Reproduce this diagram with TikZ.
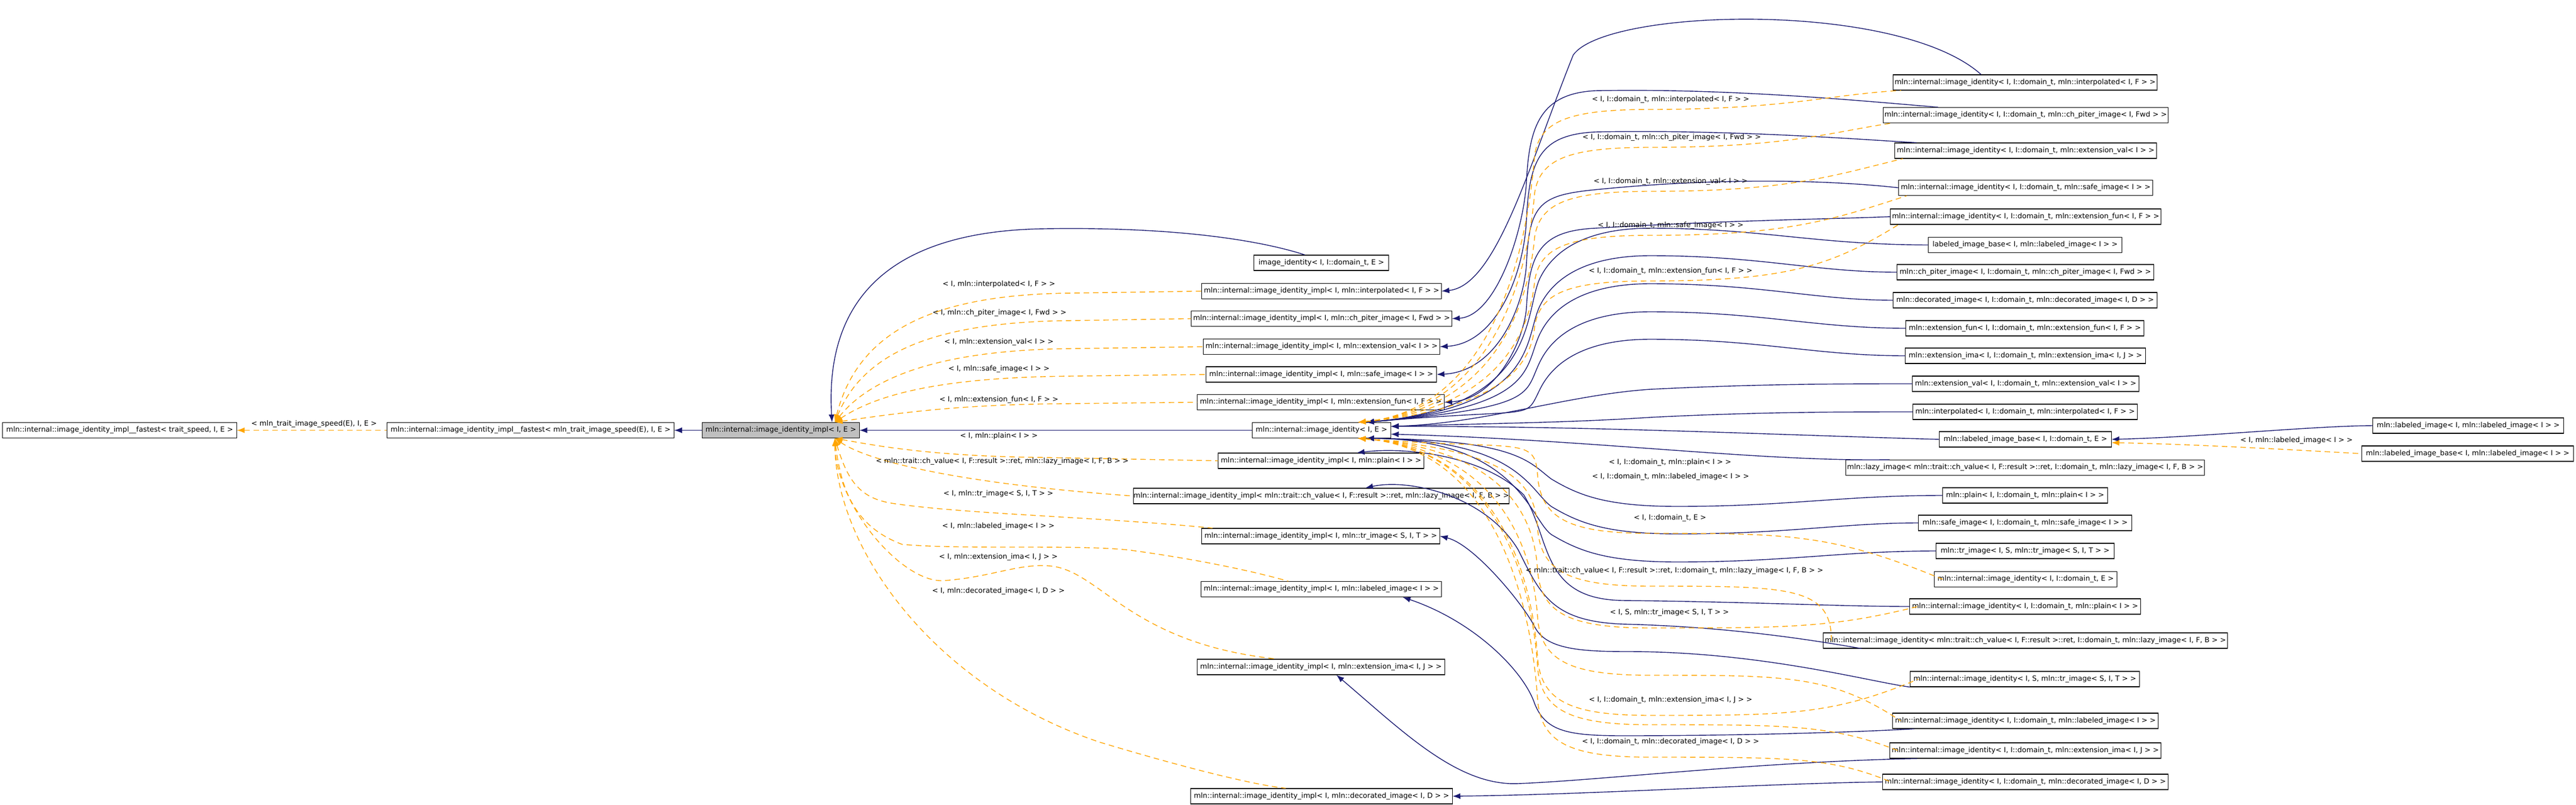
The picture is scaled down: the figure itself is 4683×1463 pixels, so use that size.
\documentclass[tikz,border=0pt]{standalone}
\usepackage{fontspec}
\setmainfont{DejaVu Sans}
\usetikzlibrary{arrows.meta}
\definecolor{navy}{HTML}{191970}
\definecolor{orng}{HTML}{FFA500}
\begin{document}
\begin{tikzpicture}[x=0.01cm,y=-0.01cm,
 box/.style={draw=black, line width=0.3pt, fill=white, minimum height=0.28cm, inner sep=0pt, font=\fontsize{3.7}{4}\selectfont},
 lbl/.style={inner sep=0pt, font=\fontsize{3.7}{4}\selectfont},
 bedge/.style={draw=navy, line width=0.4pt, {Latex[length=4pt,width=3pt]}-},
 oedge/.style={draw=orng, line width=0.4pt, dash pattern=on 1mm off 0.7mm, {Latex[length=4pt,width=3pt]}-}]
\useasboundingbox (0,0) rectangle (4683,1463);
% left
\node[box,minimum width=4.25cm] (base) at (217.5,782.5) {mln::internal::image\_identity\_impl\_\_fastest< trait\_speed, I, E >};
\node[box,minimum width=5.21cm] (fastest) at (964.5,782.5) {mln::internal::image\_identity\_impl\_\_fastest< mln\_trait\_image\_speed(E), I, E >};
\node[box,minimum width=2.85cm,fill={rgb,255:red,191;green,191;blue,191}] (main) at (1419.5,782.5) {mln::internal::image\_identity\_impl< I, E >};
% middle column
\node[box,minimum width=2.44cm] (top) at (2402,478) {image\_identity< I, I::domain\_t, E >};
\node[box,minimum width=4.35cm] (implInterp) at (2402.5,529.5) {mln::internal::image\_identity\_impl< I, mln::interpolated< I, F > >};
\node[box,minimum width=4.73cm] (implChp) at (2402.5,579.5) {mln::internal::image\_identity\_impl< I, mln::ch\_piter\_image< I, Fwd > >};
\node[box,minimum width=4.29cm] (implEval) at (2402.5,630.5) {mln::internal::image\_identity\_impl< I, mln::extension\_val< I > >};
\node[box,minimum width=4.18cm] (implSafe) at (2402,681) {mln::internal::image\_identity\_impl< I, mln::safe\_image< I > >};
\node[box,minimum width=4.48cm] (implEfun) at (2401,731.5) {mln::internal::image\_identity\_impl< I, mln::extension\_fun< I, F > >};
\node[box,minimum width=2.51cm] (imgid) at (2402.5,782.5) {mln::internal::image\_identity< I, E >};
\node[box,minimum width=3.73cm] (implPlain) at (2401.5,838) {mln::internal::image\_identity\_impl< I, mln::plain< I > >};
\node[box,minimum width=6.82cm] (implLazy) at (2402,902) {mln::internal::image\_identity\_impl< mln::trait::ch\_value< I, F::result >::ret, mln::lazy\_image< I, F, B > >};
\node[box,minimum width=4.32cm] (implTr) at (2401,975) {mln::internal::image\_identity\_impl< I, mln::tr\_image< S, I, T > >};
\node[box,minimum width=4.36cm] (implLab) at (2402,1071.5) {mln::internal::image\_identity\_impl< I, mln::labeled\_image< I > >};
\node[box,minimum width=4.49cm] (implEima) at (2401.5,1213) {mln::internal::image\_identity\_impl< I, mln::extension\_ima< I, J > >};
\node[box,minimum width=4.75cm] (implDec) at (2402.5,1448) {mln::internal::image\_identity\_impl< I, mln::decorated\_image< I, D > >};
% right column
\node[box,minimum width=4.79cm] (idInterp) at (3681.5,150) {mln::internal::image\_identity< I, I::domain\_t, mln::interpolated< I, F > >};
\node[box,minimum width=5.17cm] (idChp) at (3682.5,209.5) {mln::internal::image\_identity< I, I::domain\_t, mln::ch\_piter\_image< I, Fwd > >};
\node[box,minimum width=4.75cm] (idEval) at (3682.5,274) {mln::internal::image\_identity< I, I::domain\_t, mln::extension\_val< I > >};
\node[box,minimum width=4.61cm] (idSafe) at (3682.5,341.5) {mln::internal::image\_identity< I, I::domain\_t, mln::safe\_image< I > >};
\node[box,minimum width=4.91cm] (idEfun) at (3682.5,394) {mln::internal::image\_identity< I, I::domain\_t, mln::extension\_fun< I, F > >};
\node[box,minimum width=3.51cm] (lbbLab) at (3681.5,445.5) {labeled\_image\_base< I, mln::labeled\_image< I > >};
\node[box,minimum width=4.66cm] (chp) at (3682,495) {mln::ch\_piter\_image< I, I::domain\_t, mln::ch\_piter\_image< I, Fwd > >};
\node[box,minimum width=4.79cm] (dec) at (3681.5,546) {mln::decorated\_image< I, I::domain\_t, mln::decorated\_image< I, D > >};
\node[box,minimum width=4.32cm] (efun) at (3681,597) {mln::extension\_fun< I, I::domain\_t, mln::extension\_fun< I, F > >};
\node[box,minimum width=4.36cm] (eima) at (3682,647) {mln::extension\_ima< I, I::domain\_t, mln::extension\_ima< I, J > >};
\node[box,minimum width=4.11cm] (eval) at (3682.5,698) {mln::extension\_val< I, I::domain\_t, mln::extension\_val< I > >};
\node[box,minimum width=4.07cm] (interp) at (3681.5,749) {mln::interpolated< I, I::domain\_t, mln::interpolated< I, F > >};
\node[box,minimum width=3.12cm] (lbbE) at (3682,799) {mln::labeled\_image\_base< I, I::domain\_t, E >};
\node[box,minimum width=6.51cm] (lazy) at (3681.5,850.5) {mln::lazy\_image< mln::trait::ch\_value< I, F::result >::ret, I::domain\_t, mln::lazy\_image< I, F, B > >};
\node[box,minimum width=2.99cm] (plain) at (3681.5,901) {mln::plain< I, I::domain\_t, mln::plain< I > >};
\node[box,minimum width=3.87cm] (safe) at (3681.5,951) {mln::safe\_image< I, I::domain\_t, mln::safe\_image< I > >};
\node[box,minimum width=3.23cm] (tr) at (3681.5,1002) {mln::tr\_image< I, S, mln::tr\_image< S, I, T > >};
\node[box,minimum width=3.31cm] (idE) at (3682.5,1053.5) {mln::internal::image\_identity< I, I::domain\_t, E >};
\node[box,minimum width=4.19cm] (idPlain) at (3681.5,1103) {mln::internal::image\_identity< I, I::domain\_t, mln::plain< I > >};
\node[box,minimum width=7.34cm] (idLazy) at (3682,1165) {mln::internal::image\_identity< mln::trait::ch\_value< I, F::result >::ret, I::domain\_t, mln::lazy\_image< I, F, B > >};
\node[box,minimum width=4.16cm] (idTr) at (3681,1235) {mln::internal::image\_identity< I, S, mln::tr\_image< S, I, T > >};
\node[box,minimum width=4.82cm] (idLab) at (3682,1311) {mln::internal::image\_identity< I, I::domain\_t, mln::labeled\_image< I > >};
\node[box,minimum width=4.92cm] (idEima) at (3682,1365) {mln::internal::image\_identity< I, I::domain\_t, mln::extension\_ima< I, J > >};
\node[box,minimum width=5.18cm] (idDec) at (3682,1422) {mln::internal::image\_identity< I, I::domain\_t, mln::decorated\_image< I, D > >};
% far right
\node[box,minimum width=3.46cm] (limg) at (4487,774) {mln::labeled\_image< I, mln::labeled\_image< I > >};
\node[box,minimum width=3.84cm] (lbbLL) at (4486,825) {mln::labeled\_image\_base< I, mln::labeled\_image< I > >};

% ---- edges: left part
\draw[oedge] (base.east) -- (fastest.west);
\draw[bedge] (fastest.east) -- (main.west);
\draw[bedge] (main.east) -- (imgid.west);
\draw[bedge] ([xshift=-0.5cm]main.north east) .. controls (1500,560) and (1600,420) .. (1900,416) .. controls (2150,412) and (2300,440) .. ([xshift=-0.3cm]top.north);
\coordinate (mt) at ([xshift=-0.45cm]main.north east);
\coordinate (mb) at ([xshift=-0.45cm]main.south east);
\draw[oedge] (mt) .. controls (1560,600) and (1700,535) .. (1950,533) -- (implInterp.west);
\draw[oedge] (mt) .. controls (1570,640) and (1700,585) .. (1950,583) -- (implChp.west);
\draw[oedge] (mt) .. controls (1580,690) and (1700,636) .. (1950,634) -- (implEval.west);
\draw[oedge] (mt) .. controls (1590,720) and (1700,686) .. (1950,684) -- (implSafe.west);
\draw[oedge] (mt) .. controls (1640,750) and (1750,735) .. (1950,734) -- (implEfun.west);
\draw[oedge] (mb) .. controls (1600,812) and (1700,830) .. (1900,832) -- (implPlain.west);
\draw[oedge] (mb) .. controls (1580,840) and (1750,880) .. (implLazy.west);
\draw[oedge] (mb) .. controls (1540,870) and (1560,905) .. (1620,915) .. controls (1750,935) and (2000,940) .. ([xshift=0.2cm]implTr.north west);
\draw[oedge] (mb) .. controls (1530,900) and (1560,960) .. (1640,990) .. controls (1750,1000) and (1950,990) .. (2050,1000) .. controls (2200,1020) and (2300,1045) .. ([xshift=-0.6cm]implLab.north);
\draw[oedge] (mb) .. controls (1520,920) and (1640,1060) .. (1715,1056) .. controls (1800,1050) and (1850,1025) .. (1906,1029) .. controls (2000,1035) and (2050,1170) .. ([xshift=-0.8cm]implEima.north);
\draw[oedge] (mb) .. controls (1520,1000) and (1700,1250) .. (2000,1350) .. controls (2200,1410) and (2300,1430) .. ([xshift=-0.65cm]implDec.north);

% ---- blue id -> impl
\draw[bedge] (implInterp.east) .. controls (2720,520) and (2780,300) .. (2860,100) .. controls (2920,15) and (3450,0) .. ([xshift=-0.8cm]idInterp.north);
\draw[bedge] (implChp.east) .. controls (2720,575) and (2770,420) .. (2775,330) .. controls (2780,230) and (2800,170) .. (2900,165) .. controls (3150,160) and (3400,185) .. ([xshift=1cm]idChp.north west);
\draw[bedge] (implEval.east) .. controls (2720,625) and (2770,500) .. (2775,400) .. controls (2780,290) and (2800,245) .. (2900,240) .. controls (3150,235) and (3400,255) .. ([xshift=0.4cm]idEval.north west);
\draw[bedge] (implSafe.east) .. controls (2720,676) and (2770,560) .. (2775,480) .. controls (2780,370) and (2800,355) .. (2900,345) .. controls (3150,320) and (3350,330) .. (idSafe.west);
\draw[bedge] (implEfun.east) .. controls (2720,726) and (2770,620) .. (2775,560) .. controls (2780,460) and (2800,420) .. (2900,415) .. controls (3150,400) and (3350,398) .. (idEfun.west);
\draw[bedge] ([xshift=0.65cm]implPlain.north) .. controls (2560,812) and (2700,830) .. (2770,900) .. controls (2820,980) and (2800,1090) .. (2950,1092) .. controls (3200,1095) and (3350,1103) .. (idPlain.west);
\draw[bedge] ([xshift=0.8cm]implLazy.north) .. controls (2560,870) and (2700,900) .. (2760,1000) .. controls (2800,1080) and (2820,1130) .. (2950,1135) .. controls (3150,1140) and (3300,1165) .. ([xshift=0.7cm]idLazy.south west);
\draw[bedge] (implTr.east) .. controls (2680,990) and (2770,1100) .. (2790,1140) .. controls (2810,1180) and (2870,1185) .. (2960,1185) .. controls (3200,1185) and (3400,1240) .. (idTr.south west);
\draw[bedge] ([xshift=1.48cm]implLab.south) .. controls (2680,1130) and (2770,1220) .. (2790,1280) .. controls (2810,1330) and (2850,1338) .. (2950,1338) .. controls (3200,1338) and (3400,1330) .. ([xshift=0.4cm]idLab.south west);
\draw[bedge] ([xshift=0.28cm]implEima.south) .. controls (2550,1330) and (2650,1430) .. (2760,1425) .. controls (2900,1420) and (3200,1385) .. ([xshift=0.5cm]idEima.south west);
\draw[bedge] (implDec.east) .. controls (2900,1445) and (3200,1425) .. (idDec.west);

% ---- blue mln::X -> imgid
\coordinate (bt) at ([xshift=-0.45cm]imgid.north east);
\coordinate (bu) at ([yshift=0.07cm]imgid.east);
\coordinate (bd) at ([yshift=-0.07cm]imgid.east);
\coordinate (bs) at ([xshift=-0.45cm]imgid.south east);
\foreach \n/\y in {lbbLab/445,chp/495,dec/546,efun/597,eima/647}{
 \draw[bedge] (bt) .. controls (2800,740) and (2770,\y+120) .. (2800,\y+60) .. controls (2830,\y) and (2900,\y-30) .. (3000,\y-30) .. controls (3200,\y-30) and (3300,\y) .. (\n.west);}
\foreach \n/\y in {eval/698,interp/749}{
 \draw[bedge] (bu) .. controls (2700,770) and (2850,\y+20) .. (3000,\y+10) .. controls (3200,\y) and (3350,\y) .. (\n.west);}
\draw[bedge] (bu) .. controls (2900,775) and (3200,790) .. (lbbE.west);
\draw[bedge] (bd) .. controls (2900,800) and (3200,840) .. ([xshift=0.8cm]lazy.north west);
\foreach \n/\y in {plain/901,safe/951,tr/1002}{
 \draw[bedge] (bs) .. controls (2760,800) and (2780,\y-60) .. (2820,\y-30) .. controls (2870,\y) and (2920,\y+20) .. (3050,\y+20) .. controls (3250,\y+20) and (3350,\y) .. (\n.west);}

% ---- orange id -> imgid
\coordinate (ot) at ([xshift=-0.6cm]imgid.north east);
\coordinate (os) at ([xshift=-0.6cm]imgid.south east);
\foreach \n/\l in {idInterp/181,idChp/250,idEval/330,idSafe/410,idEfun/493}{
 \draw[oedge] (ot) .. controls (2760,740) and (2785,\l+150) .. (2790,\l+100) .. controls (2800,\l+40) and (2850,\l+18) .. (3000,\l+18) .. controls (3250,\l+18) and (3330,\l-10) .. ([xshift=0.15cm]\n.south west);}
\foreach \n/\l in {idE/942,idPlain/1114,idLazy/1038,idTr/1273,idLab/1200,idEima/1290,idDec/1349}{
 \draw[oedge] (os) .. controls (2760,820) and (2790,\l-150) .. (2795,\l-80) .. controls (2800,\l) and (2850,\l+28) .. (3000,\l+28) .. controls (3250,\l+28) and (3330,\l+28) .. ([xshift=0.15cm]\n.west);}

% ---- far right
\draw[bedge] (lbbE.east) .. controls (4000,795) and (4200,775) .. (limg.west);
\draw[oedge] ([yshift=-0.06cm]lbbE.east) .. controls (4000,808) and (4200,820) .. (lbbLL.west);

% ---- labels
\node[lbl] (l0) at (571,771) {< mln\_trait\_image\_speed(E), I, E >};
\node[lbl] (la) at (1816,517) {< I, mln::interpolated< I, F > >};
\node[lbl] (lb) at (1817,569) {< I, mln::ch\_piter\_image< I, Fwd > >};
\node[lbl] (lc) at (1816,622) {< I, mln::extension\_val< I > >};
\node[lbl] (ld) at (1816,671) {< I, mln::safe\_image< I > >};
\node[lbl] (le) at (1816,727) {< I, mln::extension\_fun< I, F > >};
\node[lbl] (lf) at (1816,793) {< I, mln::plain< I > >};
\node[lbl] (lg) at (1822,839) {< mln::trait::ch\_value< I, F::result >::ret, mln::lazy\_image< I, F, B > >};
\node[lbl] (lh) at (1815,898) {< I, mln::tr\_image< S, I, T > >};
\node[lbl] (li) at (1815,957) {< I, mln::labeled\_image< I > >};
\node[lbl] (lj) at (1815,1013) {< I, mln::extension\_ima< I, J > >};
\node[lbl] (lk) at (1815,1075) {< I, mln::decorated\_image< I, D > >};
\node[lbl] (r1) at (3037,181) {< I, I::domain\_t, mln::interpolated< I, F > >};
\node[lbl] (r2) at (3039,250) {< I, I::domain\_t, mln::ch\_piter\_image< I, Fwd > >};
\node[lbl] (r3) at (3037,330) {< I, I::domain\_t, mln::extension\_val< I > >};
\node[lbl] (r4) at (3037,410) {< I, I::domain\_t, mln::safe\_image< I > >};
\node[lbl] (r5) at (3037,493) {< I, I::domain\_t, mln::extension\_fun< I, F > >};
\node[lbl] (r6) at (3036,841) {< I, I::domain\_t, mln::plain< I > >};
\node[lbl] (r7) at (3037,867) {< I, I::domain\_t, mln::labeled\_image< I > >};
\node[lbl] (r8) at (3036,942) {< I, I::domain\_t, E >};
\node[lbl] (r9) at (3044,1038) {< mln::trait::ch\_value< I, F::result >::ret, I::domain\_t, mln::lazy\_image< I, F, B > >};
\node[lbl] (r10) at (3035,1114) {< I, S, mln::tr\_image< S, I, T > >};
\node[lbl] (r11) at (3037,1273) {< I, I::domain\_t, mln::extension\_ima< I, J > >};
\node[lbl] (r12) at (3037,1349) {< I, I::domain\_t, mln::decorated\_image< I, D > >};
\node[lbl] (r13) at (4175,801) {< I, mln::labeled\_image< I > >};
\end{tikzpicture}
\end{document}
